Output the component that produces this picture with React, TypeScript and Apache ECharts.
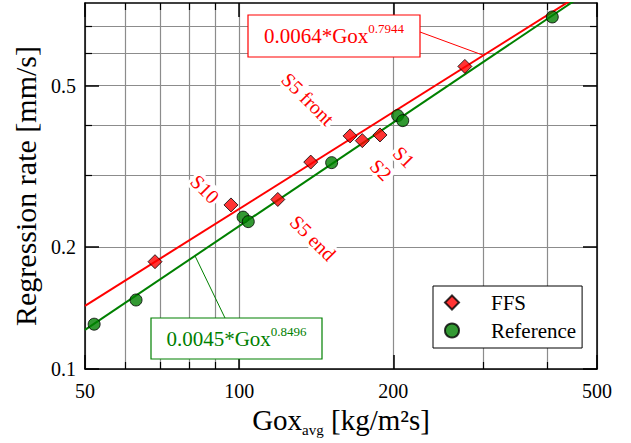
import React, { useEffect, useRef } from 'react';
import * as echarts from 'echarts';

// Measured regression rates (FFS fuel grains and reference grains)
const ffsGox = [68.5, 96.4, 119, 138, 164.7, 174, 188.4, 276];
const ffsRate = [0.184, 0.254, 0.262, 0.324, 0.376, 0.366, 0.378, 0.558];
const refGox = [52.1, 62.9, 101.8, 104.2, 151.6, 204, 208.7, 408.9];
const refRate = [0.129, 0.148, 0.237, 0.231, 0.323, 0.422, 0.41, 0.739];

// Power-law fits r = a * Gox^n
const ffsCoef = 0.0064;
const ffsExp = 0.7944;
const refCoef = 0.0045;
const refExp = 0.8496;

// Axis ranges and tick values
const goxRange = [50, 500];
const rateRange = [0.1, 0.8];
const goxMajorTicks = [50, 100, 200, 500];
const goxMinorTicks = [60, 70, 80, 90, 300, 400];
const rateMajorTicks = [0.1, 0.2, 0.5];
const rateMinorTicks = [0.3, 0.4, 0.6, 0.7];

// Gox values where the equation boxes point at their fit lines
const ffsLeaderGox = 300;
const refLeaderGox = 82;

const SERIF = 'Liberation Serif, serif';
const RED = '#ff0000';
const GREEN = '#008000';
const GRID = '#8c8c8c';

const powerFit = (a: number, n: number, g: number) => a * Math.pow(g, n);
const fitLine = (a: number, n: number) => goxRange.map((g) => [g, powerFit(a, n, g)]);

const annotationLabels = [
  { text: 'S5 front', x: 308, y: 99 },
  { text: 'S10', x: 205, y: 189 },
  { text: 'S5 end', x: 313, y: 238 },
  { text: 'S2', x: 381, y: 170 },
  { text: 'S1', x: 404, y: 157 },
];

const majorTick = { show: true, inside: true, length: 14, lineStyle: { color: '#000', width: 1.5 } };
const minorTick = { show: true, inside: true, length: 7, lineStyle: { color: '#000', width: 1.2 } };
const boxLine = { show: true, lineStyle: { color: '#000', width: 1.5 } };
const gridLine = { show: true, lineStyle: { color: GRID, width: 1.2 } };

const tickLabel = (values: number[], margin: number) => ({
  show: true,
  customValues: values,
  formatter: (v: number) => `${v}`,
  margin,
  fontSize: 20,
  fontFamily: SERIF,
  color: '#000',
});

function xAxes() {
  const base = { type: 'log', logBase: 10, min: goxRange[0], max: goxRange[1], gridIndex: 0 };
  return [
    {
      ...base,
      position: 'bottom',
      axisLine: boxLine,
      axisTick: { ...majorTick, customValues: goxMajorTicks },
      axisLabel: tickLabel(goxMajorTicks, 12),
      splitLine: gridLine,
      name: '{a|Gox}{b|avg}{a| [kg/m²s]}',
      nameLocation: 'middle',
      nameGap: 32,
      nameTextStyle: {
        color: '#000',
        fontFamily: SERIF,
        fontSize: 29,
        rich: {
          a: { fontSize: 29, fontFamily: SERIF, color: '#000', lineHeight: 35 },
          b: { fontSize: 15, fontFamily: SERIF, color: '#000', lineHeight: 15, verticalAlign: 'bottom' },
        },
      },
    },
    {
      ...base,
      position: 'bottom',
      axisLine: { show: false },
      axisTick: { ...minorTick, customValues: goxMinorTicks },
      axisLabel: { show: false },
      splitLine: gridLine,
    },
    {
      ...base,
      position: 'top',
      axisLine: boxLine,
      axisTick: { ...majorTick, customValues: goxMajorTicks },
      axisLabel: { show: false },
      splitLine: { show: false },
    },
    {
      ...base,
      position: 'top',
      axisLine: { show: false },
      axisTick: { ...minorTick, customValues: goxMinorTicks },
      axisLabel: { show: false },
      splitLine: { show: false },
    },
  ];
}

function yAxes() {
  const base = { type: 'log', logBase: 10, min: rateRange[0], max: rateRange[1], gridIndex: 0 };
  return [
    {
      ...base,
      position: 'left',
      axisLine: boxLine,
      axisTick: { ...majorTick, customValues: rateMajorTicks },
      axisLabel: tickLabel(rateMajorTicks, 9),
      splitLine: gridLine,
      name: 'Regression rate [mm/s]',
      nameLocation: 'middle',
      nameGap: 43,
      nameTextStyle: { fontSize: 30, fontFamily: SERIF, color: '#000' },
    },
    {
      ...base,
      position: 'left',
      axisLine: { show: false },
      axisTick: { ...minorTick, customValues: rateMinorTicks },
      axisLabel: { show: false },
      splitLine: gridLine,
    },
    {
      ...base,
      position: 'right',
      axisLine: boxLine,
      axisTick: { ...majorTick, customValues: rateMajorTicks },
      axisLabel: { show: false },
      splitLine: { show: false },
    },
    {
      ...base,
      position: 'right',
      axisLine: { show: false },
      axisTick: { ...minorTick, customValues: rateMinorTicks },
      axisLabel: { show: false },
      splitLine: { show: false },
    },
  ];
}

function equationBox(
  id: string,
  box: { x: number; y: number; width: number; height: number },
  coefText: string,
  expText: string,
  color: string,
) {
  return [
    {
      type: 'rect',
      id: `${id}-box`,
      z: 20,
      shape: box,
      style: { fill: '#fff', stroke: color, lineWidth: 1.2 },
    },
    {
      type: 'text',
      id: `${id}-text`,
      z: 21,
      x: box.x + box.width / 2,
      y: box.y + box.height / 2,
      style: {
        text: `{m|${coefText}*Gox}{s|${expText}}`,
        align: 'center',
        verticalAlign: 'middle',
        fill: color,
        fontFamily: SERIF,
        rich: {
          m: { fontSize: 21, fontFamily: SERIF, fill: color, lineHeight: 28 },
          s: { fontSize: 13, fontFamily: SERIF, fill: color, lineHeight: 13, verticalAlign: 'top' },
        },
      },
    },
  ];
}

export default function App() {
  const ref = useRef<HTMLDivElement>(null);

  useEffect(() => {
    document.body.style.margin = '0';
    const chart = echarts.init(ref.current!, null, { renderer: 'svg' });

    chart.setOption({
      animation: false,
      backgroundColor: '#fff',
      textStyle: { fontFamily: SERIF, color: '#000' },
      grid: { left: 85, top: 3, width: 512, height: 366 },
      xAxis: xAxes(),
      yAxis: yAxes(),
      legend: {
        data: ['FFS', 'Reference'],
        orient: 'vertical',
        left: 433,
        top: 286,
        padding: [6, 6, 7, 11],
        itemGap: 7,
        itemWidth: 14,
        itemHeight: 14,
        backgroundColor: '#fff',
        borderColor: '#000',
        borderWidth: 1,
        borderRadius: 0,
        textStyle: { fontSize: 21, fontFamily: SERIF, color: '#000', padding: [0, 0, 0, 27] },
      },
      series: [
        {
          name: 'FFS fit',
          type: 'line',
          data: fitLine(ffsCoef, ffsExp),
          showSymbol: false,
          clip: true,
          lineStyle: { color: RED, width: 2 },
          z: 3,
        },
        {
          name: 'Reference fit',
          type: 'line',
          data: fitLine(refCoef, refExp),
          showSymbol: false,
          clip: true,
          lineStyle: { color: GREEN, width: 2 },
          z: 3,
        },
        {
          name: 'FFS',
          type: 'scatter',
          symbol: 'diamond',
          symbolSize: 14,
          data: ffsGox.map((g, i) => [g, ffsRate[i]]),
          itemStyle: { color: RED, borderColor: '#000', borderWidth: 1 },
          z: 5,
        },
        {
          name: 'Reference',
          type: 'scatter',
          symbol: 'circle',
          symbolSize: 12,
          data: refGox.map((g, i) => [g, refRate[i]]),
          itemStyle: { color: GREEN, borderColor: '#000', borderWidth: 1 },
          z: 5,
        },
      ],
    });

    const toPx = (g: number, r: number) =>
      chart.convertToPixel({ xAxisIndex: 0, yAxisIndex: 0 }, [g, r]) as number[];
    const ffsTip = toPx(ffsLeaderGox, powerFit(ffsCoef, ffsExp, ffsLeaderGox));
    const refTip = toPx(refLeaderGox, powerFit(refCoef, refExp, refLeaderGox));

    const ffsBox = { x: 248, y: 15, width: 172, height: 42 };
    const refBox = { x: 151, y: 318, width: 171, height: 41 };

    chart.setOption({
      graphic: [
        ...annotationLabels.map((l, i) => ({
          type: 'text',
          id: `run-${i}`,
          z: 1,
          x: l.x,
          y: l.y,
          rotation: -Math.PI / 4,
          style: {
            text: l.text,
            align: 'center',
            verticalAlign: 'middle',
            fontSize: 20,
            fontFamily: SERIF,
            fill: RED,
            backgroundColor: '#fff',
            padding: [0, 2],
          },
        })),
        {
          type: 'line',
          id: 'ffs-leader',
          z: 19,
          shape: { x1: ffsBox.x + ffsBox.width, y1: 32, x2: ffsTip[0], y2: ffsTip[1] },
          style: { stroke: RED, lineWidth: 1 },
        },
        {
          type: 'line',
          id: 'ref-leader',
          z: 19,
          shape: { x1: 225, y1: refBox.y, x2: refTip[0], y2: refTip[1] },
          style: { stroke: GREEN, lineWidth: 1 },
        },
        ...equationBox('ffs', ffsBox, '0.0064', '0.7944', RED),
        ...equationBox('ref', refBox, '0.0045', '0.8496', GREEN),
      ],
    });

    return () => chart.dispose();
  }, []);

  return (
    <div
      ref={ref}
      style={{ position: 'absolute', left: 0, top: 0, width: 631, height: 443 }}
    />
  );
}
